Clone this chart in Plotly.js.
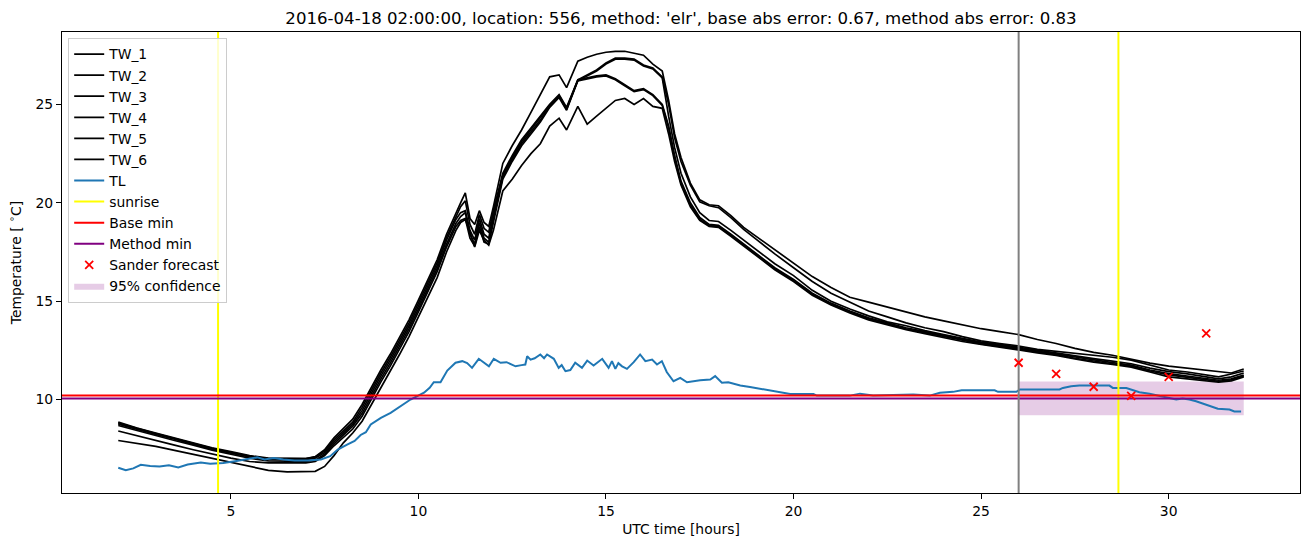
<!DOCTYPE html>
<html>
<head>
<meta charset="utf-8">
<script src="https://cdn.plot.ly/plotly-3.0.1.min.js"></script>
<style>html,body{margin:0;padding:0;background:#fff;}#chart{width:1310px;height:547px;}</style>
</head>
<body>
<div id="chart"></div>
<script>
// ---- data ----
const hours = [
  2, 2.5, 3, 3.5, 4, 4.5, 5, 5.5, 6, 6.5,
  7, 7.25, 7.5, 7.75, 8, 8.25, 8.5, 8.75, 9, 9.25,
  9.5, 9.75, 10, 10.25, 10.5, 10.75, 11, 11.125, 11.25, 11.375,
  11.5, 11.625, 11.75, 11.875, 12, 12.25, 12.5, 12.75, 13, 13.25,
  13.5, 13.75, 13.95, 14.25, 14.5, 14.75, 15, 15.25, 15.5, 15.75,
  16, 16.25, 16.5, 16.67, 16.83, 17, 17.25, 17.5, 17.75, 18,
  18.33, 18.67, 19, 19.5, 20, 20.5, 21, 21.5, 22, 22.5,
  23, 23.5, 24, 24.5, 25, 25.5, 26, 26.5, 27, 27.5,
  28, 28.5, 29, 29.5, 30, 30.5, 31, 31.33, 31.67, 32
];
const tw1 = [
  8.85, 8.55, 8.3, 8.05, 7.8, 7.55, 7.35, 7.15, 7.02, 7.0,
  7.0, 7.1, 7.45, 8.05, 8.55, 9.0, 9.75, 10.65, 11.5, 12.3,
  13.15, 14.05, 15.05, 16.05, 17.1, 18.4, 19.5, 20.0, 20.5, 19.2,
  18.9, 19.6, 19.0, 18.8, 19.8, 22.0, 22.9, 23.7, 24.6, 25.5,
  26.4, 26.5, 25.85, 27.2, 27.4, 27.55, 27.65, 27.7, 27.7, 27.6,
  27.5, 27.05, 26.7, 25.2, 23.5, 22.3, 21.0, 20.15, 19.9, 19.85,
  19.35, 18.75, 18.3, 17.6, 16.95, 16.25, 15.7, 15.2, 14.95, 14.7,
  14.45, 14.2, 14.0, 13.8, 13.6, 13.45, 13.3, 13.05, 12.85, 12.6,
  12.4, 12.25, 12.05, 11.85, 11.7, 11.6, 11.5, 11.4, 11.35, 11.55
];
const tw2 = [
  8.8, 8.52, 8.27, 8.02, 7.77, 7.52, 7.32, 7.12, 7.0, 7.0,
  7.0, 7.08, 7.38, 7.95, 8.4, 8.85, 9.6, 10.5, 11.35, 12.15,
  13.0, 13.9, 14.9, 15.9, 16.95, 18.25, 19.3, 19.8, 20.1, 18.9,
  18.4, 19.4, 18.7, 18.5, 19.6, 21.5, 22.4, 23.2, 23.8, 24.4,
  25.0, 25.5, 24.85, 26.25, 26.5, 26.75, 27.1, 27.35, 27.35, 27.3,
  27.0, 26.85, 26.4, 25.0, 23.3, 22.1, 20.9, 20.05, 19.85, 19.75,
  19.25, 18.65, 18.15, 17.4, 16.7, 16.0, 15.4, 14.95, 14.5, 14.2,
  13.9, 13.65, 13.45, 13.2, 12.98, 12.85, 12.72, 12.55, 12.45, 12.35,
  12.25, 12.15, 12.0, 11.75, 11.5, 11.4, 11.25, 11.15, 11.3, 11.45
];
const tw3 = [
  8.75, 8.48, 8.23, 7.98, 7.73, 7.48, 7.28, 7.08, 6.96, 6.95,
  6.95, 7.02, 7.3, 7.85, 8.3, 8.75, 9.45, 10.35, 11.2, 12.0,
  12.85, 13.75, 14.75, 15.75, 16.8, 18.1, 19.15, 19.5, 19.6, 18.6,
  18.1, 19.2, 18.4, 18.2, 19.4, 21.4, 22.3, 23.1, 23.7, 24.3,
  24.95, 25.45, 24.8, 26.2, 26.45, 26.7, 27.05, 27.3, 27.3, 27.25,
  26.95, 26.8, 26.35, 24.4, 22.8, 21.5, 20.3, 19.5, 19.1, 19.05,
  18.6, 18.1, 17.6, 16.9, 16.3, 15.55, 15.0, 14.6, 14.25, 13.95,
  13.75, 13.5, 13.3, 13.1, 12.92, 12.8, 12.65, 12.5, 12.38, 12.22,
  12.08, 11.95, 11.82, 11.6, 11.42, 11.3, 11.15, 11.05, 11.15, 11.35
];
const tw4 = [
  8.68, 8.42, 8.18, 7.92, 7.68, 7.43, 7.22, 7.02, 6.88, 6.86,
  6.86, 6.92, 7.22, 7.75, 8.2, 8.65, 9.3, 10.2, 11.05, 11.85,
  12.7, 13.6, 14.6, 15.6, 16.65, 17.9, 18.95, 19.3, 19.5, 18.4,
  17.9, 19.0, 18.2, 18.0, 19.2, 21.3, 22.2, 23.0, 23.6, 24.2,
  24.9, 25.4, 24.75, 26.25, 26.35, 26.45, 26.5, 26.3, 26.0, 25.7,
  25.8, 25.5, 25.0, 23.9, 22.4, 21.1, 20.0, 19.25, 18.9, 18.85,
  18.4, 17.9, 17.4, 16.7, 16.1, 15.4, 14.9, 14.5, 14.15, 13.9,
  13.65, 13.45, 13.25, 13.05, 12.87, 12.75, 12.6, 12.45, 12.32, 12.15,
  12.0, 11.88, 11.75, 11.5, 11.32, 11.2, 11.05, 10.98, 11.05, 11.25
];
const tw5 = [
  8.4, 8.15, 7.92, 7.68, 7.45, 7.22, 7.02, 6.85, 6.78, 6.78,
  6.78, 6.85, 7.15, 7.65, 8.1, 8.5, 9.15, 10.05, 10.9, 11.7,
  12.55, 13.45, 14.45, 15.45, 16.5, 17.75, 18.8, 19.1, 19.2, 18.2,
  17.8, 18.8, 18.0, 17.9, 19.0, 21.2, 22.1, 22.9, 23.5, 24.1,
  24.85, 25.35, 24.7, 26.2, 26.3, 26.4, 26.45, 26.25, 25.95, 25.65,
  25.75, 25.45, 24.95, 23.8, 22.3, 21.0, 19.9, 19.15, 18.85, 18.8,
  18.35, 17.85, 17.35, 16.65, 16.05, 15.35, 14.85, 14.45, 14.1, 13.85,
  13.6, 13.4, 13.2, 13.0, 12.83, 12.7, 12.56, 12.4, 12.28, 12.1,
  11.95, 11.82, 11.7, 11.45, 11.25, 11.12, 10.98, 10.92, 11.0, 11.2
];
const tw6 = [
  7.92, 7.78, 7.62, 7.42, 7.22, 7.02, 6.82, 6.6, 6.4, 6.32,
  6.32, 6.35, 6.6, 7.15, 7.8, 8.3, 8.9, 9.75, 10.6, 11.4,
  12.3, 13.2, 14.2, 15.2, 16.2, 17.5, 18.6, 19.0, 19.15, 18.5,
  17.75, 18.6, 18.1, 17.85, 18.6, 20.6, 21.2, 21.9, 22.5, 23.0,
  23.9, 24.3, 23.7, 24.9, 24.0, 24.4, 24.8, 25.2, 25.3, 25.0,
  25.3, 24.9, 24.8, 23.5, 22.1, 20.9, 19.8, 19.1, 18.8, 18.75,
  18.3, 17.8, 17.3, 16.6, 16.0, 15.3, 14.8, 14.4, 14.05, 13.8,
  13.55, 13.35, 13.15, 12.95, 12.8, 12.67, 12.52, 12.37, 12.24, 12.06,
  11.9, 11.78, 11.65, 11.4, 11.15, 11.05, 10.93, 10.88, 10.95, 11.15
];
const tlHours = [
  2.0, 2.2, 2.4, 2.6, 2.85, 3.1, 3.35, 3.6, 3.85, 4.2,
  4.45, 4.8, 5.15, 5.45, 5.7, 5.9, 6.15, 6.4, 6.7, 7.05,
  7.4, 7.65, 7.85, 8.1, 8.3, 8.46, 8.6, 8.73, 9.0, 9.26,
  9.5, 9.79, 9.97, 10.15, 10.3, 10.41, 10.59, 10.77, 10.99, 11.17,
  11.3, 11.43, 11.61, 11.75, 11.88, 12.01, 12.19, 12.35, 12.45, 12.59,
  12.75, 12.85, 12.9, 12.99, 13.1, 13.25, 13.35, 13.43, 13.61, 13.74,
  13.82, 13.92, 14.05, 14.18, 14.36, 14.5, 14.67, 14.9, 15.07, 15.16,
  15.25, 15.33, 15.43, 15.56, 15.74, 15.91, 16.05, 16.23, 16.36, 16.49,
  16.62, 16.8, 16.98, 17.16, 17.51, 17.78, 17.91, 18.09, 18.26, 18.58,
  18.84, 19.11, 19.46, 19.73, 19.91, 20.53, 20.62, 21.5, 21.77, 22.12,
  23.19, 23.63, 23.9, 24.25, 24.48, 25.36, 25.45, 25.94, 26.03, 27.09,
  27.18, 27.4, 27.62, 28.42, 28.51, 28.87, 29.04, 29.22, 29.49, 29.76,
  30.02, 30.2, 30.37, 30.55, 30.73, 31.09, 31.31, 31.62, 31.75, 31.93
];
const tlTemp = [
  6.53, 6.41, 6.5, 6.68, 6.62, 6.6, 6.66, 6.55, 6.7, 6.8,
  6.74, 6.78, 6.88, 6.98, 7.06, 6.95, 7.03, 6.95, 6.9, 6.9,
  6.95, 7.12, 7.46, 7.71, 7.9, 8.2, 8.34, 8.73, 9.07, 9.32,
  9.63, 10.0, 10.17, 10.35, 10.6, 10.88, 10.88, 11.47, 11.87, 11.95,
  11.85, 11.61, 12.07, 11.85, 11.69, 12.07, 11.87, 11.9, 11.8, 11.69,
  11.75, 11.78, 12.2, 12.03, 12.1, 12.29, 12.1, 12.29, 12.07, 11.61,
  11.75, 11.44, 11.5, 11.87, 11.61, 11.98, 11.73, 12.07, 11.61, 11.95,
  11.56, 11.85, 11.69, 11.56, 11.9, 12.29, 11.95, 12.03, 11.78, 11.95,
  11.4, 10.93, 11.1, 10.88, 10.98, 11.02, 11.19, 10.85, 10.88, 10.71,
  10.64, 10.54, 10.42, 10.34, 10.28, 10.28, 10.2, 10.2, 10.3, 10.2,
  10.25, 10.2, 10.34, 10.39, 10.47, 10.47, 10.39, 10.39, 10.51, 10.51,
  10.59, 10.68, 10.71, 10.71, 10.59, 10.59, 10.47, 10.37, 10.29, 10.17,
  10.05, 10.0, 10.05, 10.0, 9.91, 9.69, 9.53, 9.49, 9.39, 9.39
];
const sunriseHours = [4.66, 28.66];
const forecastStartHour = 26;
const baseMin = 10.2;
const methodMin = 10.05;
const sanderHours = [26, 27, 28, 29, 30, 31];
const sanderTemp = [11.87, 11.31, 10.65, 10.19, 11.15, 13.36];
const confHours = [26, 32];
const confLow = 9.2;
const confHigh = 10.92;
const twNames = ['TW_1', 'TW_2', 'TW_3', 'TW_4', 'TW_5', 'TW_6'];
const twSeries = [tw1, tw2, tw3, tw4, tw5, tw6];

const xRange = [0.5, 33.5];
const yRange = [5.25, 28.68];

// ---- traces ----
const traces = [];
traces.push({
  x: [confHours[0], confHours[1], confHours[1], confHours[0]],
  y: [confLow, confLow, confHigh, confHigh],
  type: 'scatter', mode: 'lines', fill: 'toself',
  fillcolor: 'rgba(128,0,128,0.2)', line: {width: 0, color: 'rgba(0,0,0,0)'},
  name: '95% confidence', legendrank: 12, hoverinfo: 'skip'
});
twSeries.forEach((s, i) => {
  traces.push({x: hours, y: s, type: 'scatter', mode: 'lines',
    line: {color: 'black', width: 1.7}, name: twNames[i], legendrank: i + 1});
});
traces.push({x: tlHours, y: tlTemp, type: 'scatter', mode: 'lines',
  line: {color: '#1f77b4', width: 2}, name: 'TL', legendrank: 7});
const srX = [], srY = [];
sunriseHours.forEach((h, i) => {
  if (i > 0) { srX.push(null); srY.push(null); }
  srX.push(h, h); srY.push(yRange[0], yRange[1]);
});
traces.push({x: srX, y: srY, type: 'scatter', mode: 'lines',
  line: {color: 'yellow', width: 2}, name: 'sunrise', legendrank: 8});
traces.push({x: xRange, y: [baseMin, baseMin], type: 'scatter', mode: 'lines',
  line: {color: 'red', width: 2}, name: 'Base min', legendrank: 9});
traces.push({x: xRange, y: [methodMin, methodMin], type: 'scatter', mode: 'lines',
  line: {color: 'purple', width: 2}, name: 'Method min', legendrank: 10});
traces.push({x: [forecastStartHour, forecastStartHour], y: yRange, type: 'scatter', mode: 'lines',
  line: {color: 'gray', width: 2}, showlegend: false});
traces.push({x: sanderHours, y: sanderTemp, type: 'scatter', mode: 'markers',
  marker: {symbol: 'x-thin', size: 8, color: 'red', line: {color: 'red', width: 1.8}},
  name: 'Sander forecast', legendrank: 11});

const font = {family: 'DejaVu Sans, sans-serif', size: 13.9, color: 'black'};
const layout = {
  width: 1310, height: 547,
  margin: {l: 62, r: 10, t: 32, b: 54},
  paper_bgcolor: 'white', plot_bgcolor: 'white',
  font: font,
  title: {
    text: "2016-04-18 02:00:00, location: 556, method: 'elr', base abs error: 0.67, method abs error: 0.83",
    font: {family: 'DejaVu Sans, sans-serif', size: 16.6, color: 'black'},
    x: 681 / 1310, xanchor: 'center', xref: 'container',
    y: 1 - 18 / 547, yanchor: 'middle', yref: 'container'
  },
  xaxis: {
    range: xRange, showgrid: false, zeroline: false,
    showline: true, linecolor: 'black', linewidth: 1, mirror: true,
    ticks: 'outside', ticklen: 5, tickwidth: 1, tickcolor: 'black',
    tickvals: [5, 10, 15, 20, 25, 30], tickfont: font,
    title: {text: 'UTC time [hours]', font: font, standoff: 6}
  },
  yaxis: {
    range: yRange, showgrid: false, zeroline: false,
    showline: true, linecolor: 'black', linewidth: 1, mirror: true,
    ticks: 'outside', ticklen: 5, tickwidth: 1, tickcolor: 'black',
    tickvals: [10, 15, 20, 25], tickfont: font,
    title: {text: 'Temperature [ <sup>∘</sup>C]', font: font, standoff: 10}
  },
  legend: {
    x: 0.005, y: 0.988, xanchor: 'left', yanchor: 'top',
    bgcolor: 'rgba(255,255,255,0.8)', bordercolor: '#cccccc', borderwidth: 1,
    font: font, tracegroupgap: 0
  },
  showlegend: true
};
Plotly.newPlot('chart', traces, layout, {displayModeBar: false, staticPlot: true});
</script>
</body>
</html>
